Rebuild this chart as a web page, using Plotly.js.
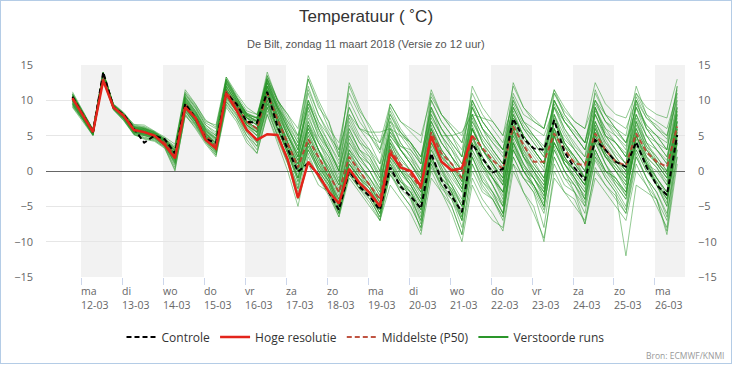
<!DOCTYPE html>
<html>
<head>
<meta charset="utf-8">
<script src="https://cdn.plot.ly/plotly-3.0.1.min.js"></script>
<style>
  html, body { margin: 0; padding: 0; background: #fff; }
  #wrap { position: relative; width: 732px; height: 366px; }
  #chart { width: 732px; height: 366px; }
  #frame { position: absolute; left: 0; top: 0; width: 730px; height: 362px; border: 1px solid #b4cce6; pointer-events: none; }
</style>
</head>
<body>
<div id="wrap"><div id="chart"></div><div id="frame"></div></div>
<script>
// ---- Data (temperatures in °C, 6-hourly from 11-03 19h to 26-03 13h local time) ----
const controle = [10.5,8,5.5,14,9,8,6,4,5,4.5,2.5,9.5,7.5,4.5,4,11,9.5,
  7,6.8,11.2,6.3, 3,-0.1,1.1,-0.5, -3,-5.5,0,-2.2, -3.6,-5.5,0.5,-2.2, -3.6,-5.3,2.5,-1.3,
  -3.6,-5.8,3.8,1.8, -0.2,0.3,7.4,4.6, 3.2,3.0,7.2,2.7, 0.4,-1.3,4.4,3.0, 1.3,0.6,4.1,0.6, -2.0,-3.4,5.1];

const hogeResolutie = [10.3,8,5.5,12.8,9,7.8,5.8,5.5,5,3.7,1.8,9,7.5,4.4,3.2,11,8.6,
  5.8,4.4,5.2,5.1, 1.6,-3.8,1.3,-0.6, -2.9,-4.6,0.3,-1.7, -3.1,-5.0,2.6,0.5, 0,-2.2,4.9,1.3,
  0.1,0.4,5.0];

const middelste = [10.2,8,5.5,13.5,9.1,7.8,5.8,5.5,5,4,2.2,9.5,7.5,5,3.5,11.3,9.3,
  7,6,11,7.3, 4,0.5,4.5,2, -0.5,-3,2,0, -2,-4,3,1, -0.5,-2.5,5.5,2.5,
  1,-1,5,3.2, 1.5,0.3,6.3,3.7, 1.3,1.3,5.3,3.0, 1.1,0.8,5.3,3.0, 1.3,0.8,5.3,2.7, 1.3,0.6,6.3];

const verstoordeRuns = [
  [10.5,8,5.5,13.8,9.2,8,6,5.8,5.2,4.2,2.5,10,8,5.5,4,12,9.5, 7.5,6.5,11,7, 4,1,6,3, 0,-3,3,1, -1.5,-4,4,2, 0,-2,7,4, 2,0,7,4.5, 2.5,0.5,8,5, 3,1,7.5,4, 2,0,6,3, 1.5,0.5,6,3, 1,0,7],
  [10,7.8,5.2,13.5,9,7.6,5.6,5.2,5,4,1.8,9,7,4.5,3,11,9, 6.5,5,10,6, 2.5,-1,4,1, -1.5,-4,1,-1, -3,-5.5,2,0, -2,-4.5,4,1, -1,-3,6,3, 0.5,-1.5,9,6, 4,2,9,5.5, 3,1,5,2, 0,-2,4,1, -1,-3,6],
  [11,8.5,5.8,14,9.4,8.2,6.2,6,5.5,4.5,3,10.5,8.5,6,5,13,10.5, 8,7,13.5,10, 7,4,13,9, 7,2,12.5,9, 6,3,9,6, 4,1,10,7, 5,2,12,9, 7,5,12,9, 7.5,6,11,8.5, 7,6,12.5,9.5, 8,7.5,11,9, 8,7.5,13],
  [9,7,5,13,8.8,7.2,5.2,4.5,4.2,3.2,0,8,6,3.8,2,9,7, 4,2.5,8,4, 0,-5,2,-1, -3,-6.5,-1,-3, -5,-7,-2,-4, -6,-9,-1,-3, -6,-10,-2,-5, -7,-8,1,-3, -6,-9.5,-1,-3, -5,-7,0,-2, -4,-6,1,-2, -5,-8,3],
  [10.2,8,5.6,13.7,9.1,7.9,5.9,5.6,5,4.1,2.2,9.5,7.5,5,3.5,11.5,9.5, 7,6,12,8, 5,2,8,4, 1,-2,5,2, 0,-2.5,6,3, 1,-1,9,5, 3,0,8,4, 1,-2,5,2, 0,-3,4,1, -1,-3,5,2, 0,-2.5,6,2, -1,-3.5,5],
  [9.5,7.5,5.3,13.2,9,7.7,5.7,5.4,4.8,3.8,1.5,8.8,7,4.8,3.2,10.5,8.5, 6,4,9,6, 3,0,5,2, -1,-5,0,-2, -3.5,-6,1,-1.5, -3,-6,3,0, -3,-7,4,1, -2,-5,6,2, -1,-4,8,4, 2,-1,9,5, 3,1,10,6, 4,2,9],
  [10.8,8.2,5.7,13.9,9.3,8,6.1,5.9,5.3,4.3,2.8,10.2,8.2,5.8,4.2,12.5,10, 8,7.5,12.5,9, 6,3,10,6, 3,0,7,4, 2,-1,7.5,4, 2,-1,8,5, 3,1,6,3, 1,-1,10.5,7, 5,3,8,5, 3,1,7,4, 2,0,9,5, 3,1,10],
  [9.8,7.6,5.4,13.4,8.9,7.5,5.5,5.3,4.9,3.9,1.9,9.2,7.2,4.6,3.3,10.8,8.8, 6.5,5.5,10.5,7, 3.5,0.5,7,3, 0,-3.5,2,0, -2,-4.5,3,0.5, -1.5,-4,6,2, -0.5,-3,5,2, -1,-4,4,1, -2,-5,3,0, -2,-4,2,0, -1.5,-3,4,1, -1.5,-4,4],
  [10.3,8.1,5.6,13.6,9.2,7.8,5.8,5.7,5.1,4.2,2.4,9.8,7.8,5.3,3.8,11.8,9.8, 7.5,7,12,8.5, 5,1.5,6.5,4, 2,-1,4,2, 1,-2,5,3, 1.5,-0.5,10,7, 5,3,10,7, 5,3,9,6, 4,2,10,7, 5,3,8,5, 4,2,7,4, 3,1,9],
  [9.3,7.3,5.1,13.1,8.7,7.4,5.4,5,4.6,3.6,1.2,8.5,6.5,4.2,2.6,9.8,8, 5,3.5,9.5,5.5, 1.5,-2,3,0, -2,-5.5,0.5,-2, -4,-6.5,-0.5,-2.5, -4,-7,2,-1, -3,-6,3,0, -2,-5,2,-1, -3,-6,1,-2, -3,-5,3,0, -2,-4,2,-1, -3,-6,2],
  [10.6,8.3,5.9,13.8,9.4,8.1,6.3,6.1,5.4,4.4,3.2,10.8,9,6.5,5.5,13.3,10.5, 8,7.5,14,10, 6.5,4,12,8, 5,3,8,6, 5,4,7,5.5, 4,2,9,6, 4,2,8,5, 3,1,12.5,9, 7,6,11.5,8, 6,4,10,7, 6,5,12,8, 7,6,11],
  [10,7.9,5.5,13.6,9.1,7.8,5.8,5.5,5,4,2.1,9.4,7.3,4.9,3.4,11.2,9.2, 7,6,11.5,7.5, 4,1,5,2, -1,-4,1.5,-0.5, -2.5,-5,1.5,-1, -3,-5.5,2,-0.5, -2,-5,5,1, -1,-3,7,3, 0,-2,6,2, -1,-3,4,1, -2,-4,5,1, -2,-5,6],
  [11.2,8.6,5.9,14,9.5,8.3,6.5,6.3,5.6,4.6,3.5,11.5,9.5,7,6.5,13.3,11, 9,8,13,10, 8,5,10,7, 5,2,9,6, 5.5,5.5,6,5, 4,2,7,4, 2,-1,6,3, 1,-1,7,4, 2,0,11,8, 6,4,9,6, 4,2,8,5, 4,3,11],
  [9.1,7.2,5,12.8,8.6,7.1,5.1,4.6,4.3,3.4,0.5,7.8,6.2,4,2.3,9.5,7.5, 5,3,8.5,5, 2,-2.5,4,0, -3,-6,-0.5,-2.5, -4,-6.5,0,-3, -5,-8,0.5,-2, -5,-9,-1,-4, -6,-8.5,0,-3, -5,-10,0,-3, -4,-7.5,-1,-3, -5,-7,0,-2, -4,-9,1],
  [10.4,8,5.7,13.7,9.2,7.9,6,5.7,5.2,4.2,2.6,10,8,5.5,4,12,9.8, 7.5,6.5,12.5,8.5, 5,2,7.5,4.5, 2,-1.5,6,3, 1,-1.5,4.5,2, 0,-2.5,5,2, 0.5,-2,7.5,4, 2,0,6.5,3.5, 1.5,-1,7,3.5, 1,-1,8,4.5, 2,0,7.5,4, 1.5,-0.5,8],
  [9.7,7.7,5.4,13.3,9,7.6,5.6,5.3,4.9,3.8,1.6,9,7,4.7,3,10.8,8.8, 6.5,5,10,6, 2.5,-1.5,3,0.5, -1.5,-5,3,0, -2,-4.5,3.5,0.5, -1,-3.5,6.5,3, 1,-1.5,9,6, 4,2,7,3.5, 1,-1,5,2, 0,-2,6.5,3, 1,-1,3,0, -2,-4.5,5],
  [10.1,8,5.6,13.5,9.1,7.8,5.8,5.6,5.1,4.1,2.3,9.6,7.6,5.2,3.6,11.4,9.4, 7,6,11,7.5, 4.5,1.5,6,3, 1,-2,3,1, -1,-3,3,0, -2,-5,1,-2, -4,-7,2,-1, -3,-6,3,0, -2,-5,6,2, 0,-2,9,5, 3,1,8,4, 2,0,7],
  [10.7,8.4,5.8,13.9,9.3,8.1,6.2,6,5.4,4.4,3,10.6,8.8,6.2,5,12.8,10.2, 8,7,13,9.5, 6.5,3,9,5, 3,0,10,7, 5,3,8,5, 3,1,11,8, 6,4,11,8, 6,4,10,7, 6,5,9,7, 5.5,4,11,8, 6,4,9,6, 5,3,12],
  [9.6,7.6,5.3,13.2,8.9,7.5,5.5,5.1,4.7,3.7,1,8.6,6.8,4.4,2.8,10.2,8.4, 6,4.5,10,6, 3,-1,4,1, -2,-6,0,-2.5, -3,-7,1,-2, -3.5,-7.5,2,-1.5, -3,-6.5,1,-2.5, -4,-6.5,2,-1, -3,-8,2,-1, -3,-6,2,-1, -3,-12,-2,-3, -4,-7,4],
  [10.4,8.2,5.7,13.6,9.2,7.9,5.9,5.6,5.2,4.2,2.4,9.7,7.8,5.3,3.8,11.6,9.6, 7.5,6.5,11.5,8, 5,2,8.5,5, 2.5,-0.5,4.5,2, 0,-3,6.5,3, 1,-1.5,8,5, 2,0,9.5,6, 3,1,8.5,5, 3,1,9.5,6, 3.5,2,7,4, 2.5,1,10,6, 4,2,8],
  [9.9,7.8,5.4,13.4,9,7.7,5.7,5.4,4.9,3.9,1.8,9.2,7.3,4.8,3.2,11,9, 6.5,5.5,10.5,7, 3.5,0,5.5,2, -0.5,-3,1,-1, -2,-4,2,0, -1,-3,3,0.5, -2,-4.5,4,1, -1,-3.5,5,2, 0,-2,4,1.5, 0,-2,3,0, -1,-3,3.5,0.5, -2,-3.5,3],
  [10.9,8.4,5.8,13.9,9.4,8.1,6.4,6.2,5.5,4.5,3.3,11,9.2,6.8,6,13,10.8, 8.5,8,12,9, 7,5,13.5,10, 7,3,12,8.5, 6.5,4,9.5,7, 5.5,4,11.5,8, 6,4,9,6, 4.5,3,11,8, 7,6,11.5,9, 7,6,10,8, 7,6,10,7.5, 6.5,5,10],
  [9.4,7.4,5.2,13,8.8,7.3,5.3,4.8,4.5,3.5,0.8,8.3,6.6,4.3,2.5,9.8,7.8, 5.5,4,9,5, 1.5,-3,2.5,-1, -3.5,-6.5,0,-2, -3,-6,2,-1, -4,-8.5,1,-2.5, -4,-8,0,-3, -4,-7,3,0, -2,-5,3.5,0, -2,-5,1.5,-1, -3,-5.5,2.5,-1, -4,-8.5,2],
  [10.2,8,5.5,13.6,9.1,7.8,5.8,5.6,5,4.1,2.2,9.6,7.6,5.1,3.6,11.4,9.4, 7,6,12,8, 4,0.5,6,3, 0.5,-2.5,2.5,0.5, -1,-3.5,4,1, -1,-3,5.5,2.5, 0,-2.5,3,0.5, -1,-3,1,-1, -2,-4,5,1.5, 0,-2,5,2, 1,-1,4,1, 0,-2,6],
  [10.5,8.1,5.7,13.7,9.2,7.9,6,5.8,5.2,4.3,2.7,10.1,8.2,5.7,4.4,12.3,10, 7.8,7,12.8,9, 5.5,2.5,10,6, 3.5,0,6.5,4, 3,1,5.5,3.5, 2.5,0,7,4, 2,0,10,7, 5,3,8,5, 3,1,6,3.5, 2,0,9,5.5, 4,2,6,3, 1.5,-0.5,9],
  [9.2,7.3,5.1,12.9,8.7,7.2,5.2,4.7,4.4,3.3,0.2,8,6.4,4.1,2.2,9.3,7.4, 4.5,2.5,8,4.5, 1,-4,1,-2, -3,-6,1,-1, -2.5,-5.5,1,-1.5, -3,-6.5,2,-1, -2.5,-6,5,1, -1,-3,4,0.5, -1,-3.5,5,1, -1,-4,3,0, -1,-3.5,5,1.5, -2,-4,7],
  [10.6,8.2,5.8,13.8,9.3,8,6.1,5.9,5.3,4.3,2.9,10.4,8.5,6,4.7,12.6,10.2, 8,7.5,12.5,9.5, 6,3.5,9.5,6.5, 4,1.5,8,5, 3,0,5,3, 1,-1,6,3, 1,-1.5,8,5, 3,1,10,7, 5,3,10,7, 5,3,8.5,6, 5,3.5,9,6.5, 5,4,10.5],
  [9.9,7.7,5.4,13.3,9,7.7,5.7,5.3,4.9,3.9,1.7,9.1,7.1,4.7,3.1,10.9,9, 6.5,5.5,11,7, 3,-0.5,4.5,1.5, -1,-4.5,2,-0.5, -2,-5,3,0, -2,-4.5,4.5,1, -1.5,-4,6,2, -0.5,-3,6,2.5, 0,-2.5,8,4, 1.5,-1,6,2.5, 0.5,-1.5,7,3, 1,-1,6],
  [10.3,8.1,5.6,13.6,9.2,7.9,5.9,5.7,5.1,4.2,2.5,9.9,7.9,5.4,4,11.9,9.8, 7.6,6.8,12.4,8.6, 5.5,2,7,4, 1.5,-1.5,5,2.5, 1,-1.5,5.5,3, 1,-1.5,4,1.5, 0,-2.5,6,3, 1.5,-0.5,7.5,4.5, 2.5,0.5,7,4, 2,0,4.5,2, 0.5,-1,6.5,3.5, 1,-1,7.5],
  [9.6,7.5,5.3,13.2,8.9,7.5,5.5,5.2,4.8,3.7,1.4,8.8,7,4.6,2.9,10.4,8.5, 6,4.5,9.5,6, 2.5,-1,3.5,0.5, -1.5,-5,1,-1.5, -3,-6,0.5,-2, -3.5,-7,1.5,-2, -3.5,-7,2,-1.5, -3,-6,4,0, -2,-4.5,2,-1, -2,-4.5,4.5,1, -1,-3,4,0.5, -2,-5,5],
  [10.8,8.3,5.9,13.9,9.3,8.1,6.6,6.5,5.7,4.8,3.8,11.2,9.4,7.2,6.2,12.8,10.4, 8.2,7.4,13.2,9.2, 6,3,11,7, 4,1,7.5,4.5, 2.5,0,8.5,5.5, 3.5,1.5,7.5,5, 5,5.5,8,7.5, 7,5,9.5,6.5, 4.5,2.5,7,4.5, 3,1,8,5, 4,2.5,9.5,6.5, 5,3,9.5],
  [9.5,7.4,5.2,13.1,8.8,7.4,5.3,5,4.6,3.5,1.1,8.4,6.7,4.3,2.7,10,8.1, 5.5,3.5,9,5, 1,-2.5,3.5,0.5, -2.5,-6,-0.5,-2.5, -4.5,-7,-0.5,-3, -5,-8,0,-3, -5,-9,1,-2, -4,-6.5,3.5,0, -2.5,-5.5,5,1, -1,-4,6.5,2.5, 0,-2,5,1.5, -1,-3,8],
  [10.1,7.9,5.5,13.5,9,7.7,5.9,5.9,5.3,4.4,2.9,10.3,8.3,5.8,4.5,12.4,10, 7.5,6.5,12,9, 6,3.5,9,5.5, 3,0.5,6,3, 1.5,-1,7,4, 2,0,6,3, 1,-1,5,2, 0,-2,6,3, 1,-1,4,1.5, 0.5,-1.5,5.5,2.5, 1,-0.5,5,2, 0.5,-2,5.5],
  [10.7,8.3,5.7,13.8,9.3,8,6.1,5.8,5.1,4,2,9.3,7.2,4.9,3.4,11.4,9.3, 6.8,5.6,11.8,7.6, 4,0.5,6.5,3, -0.5,-4,0,-2, -3,-5,0,-2, -3,-5.5,1.5,-1, -2.5,-5,2.5,-0.5, -3,-5,3,0, -1,-3,4,1, -1.5,-3.5,2.5,-0.5, -2.5,-5,3,0, -1.5,-4,4],
  [9.9,7.8,5.5,13.4,9,7.6,5.8,5.6,5.1,4.1,2.3,9.7,7.8,5.6,4.6,12.1,9.8, 7.8,7.2,13,10, 8,6,13,9.5, 6,4,11,8, 5,2.5,8,5.5, 4,2,9,6, 3.5,1,7,4, 2,0,8,5, 3,1,9,6, 4,2,11.5,8, 6,4,8,5, 3,1.5,8.5],
  [10.4,8.1,5.6,13.6,9.1,7.8,5.8,5.5,5,4,2.2,9.6,7.6,5.2,3.9,11.6,9.4, 7,6,11.5,7.5, 4,1.5,5.5,2.5, 0.5,-2,4,1.5, 0,-2.5,4.5,1.5, 0,-2.5,5.5,2, 0.5,-1.5,4.5,1.5, 0,-2,5.5,2, 0.5,-1.5,6,2.5, 1,-1,5.5,2, 0,-1.5,5,2, 0.5,-1.5,6.5],
  [9.4,7.4,5.1,13,8.8,7.4,5.4,5.1,4.7,3.6,1.3,8.7,7,4.5,2.9,10.5,8.4, 5.8,4.2,9.6,6, 2.5,-1.5,3,0, -2,-5,2.5,0, -2,-4.5,3.5,0, -1.5,-4,4,0.5, -3,-6.5,2,-1.5, -3.5,-6,4.5,1, -1,-3.5,3,0, -3,-7.5,0.5,-2, -3.5,-6,2,-1, -3,-6.5,4.5],
  [10.6,8.2,5.7,13.8,9.3,8,6.2,6,5.4,4.4,2.8,10.4,8.4,5.9,4.6,12.5,10, 7.8,7,12.8,9, 5,2.5,9.5,6, 3,0,5.5,3, 2,-0.5,6,3.5, 3,1,8.5,6, 4,2,9,6, 4,2.5,7.5,5, 3,1,10,7, 5,3,9.5,7, 5.5,4,10.5,7.5, 6,4.5,12],
  [10,7.8,5.4,13.4,9,7.6,5.6,5.4,4.9,3.9,1.9,9.3,7.3,4.8,3.3,11,9, 6.6,5.4,10.8,7, 3.5,0,4,1, -1,-4.5,1,-1, -2.5,-5,2.5,-0.5, -2,-4.5,5,1.5, 0,-2.5,6.5,3, 1,-1,5.5,2.5, 0.5,-1.5,7,3.5, 1,-1,6,3, 1.5,0,5.5,2.5, 1,-1,7],
  [10.3,8,5.6,13.6,9.1,7.8,5.8,5.5,5,4,2.1,9.4,7.4,5,3.5,11.2,9.2, 6.8,5.8,11.2,7.4, 4,1,6.5,3, 0,-3,3.5,1, -1,-3.5,4,1, -0.5,-3,6,2.5, 1,-1,6,3, 1,-1.5,4,1, -1,-3,5.5,2, 0,-2,7,3.5, 1.5,-0.5,7,3.5, 2,0,8.5],
  [9.7,7.6,5.3,13.2,8.9,7.5,5.5,5.2,4.8,3.8,1.6,9,7,4.7,3.1,10.7,8.7, 6.2,5,10.2,6.5, 3,-1,4.5,1.5, -1.5,-5,1.5,-1, -3.5,-6,1.5,-1.5, -2.5,-5.5,3.5,0, -2,-5,4,0.5, -2,-4.5,6,2, -0.5,-2.5,4,1, -0.5,-2.5,4,1, -1.5,-3.5,4.5,1, -1,-3,5.5],
  [10.9,8.4,5.8,13.9,9.4,8.1,6.3,6.1,5.5,4.6,3.2,10.9,9,6.5,5.2,12.9,10.4, 8.2,7.6,13.5,10.2, 7.5,4.5,11.5,8, 5.5,2.5,9,6, 4,1,9.5,7, 6,5,10.5,8, 6.5,5,10,7, 5,3,9,6, 5,3.5,10,7.5, 6,4,10,7, 5,3,11,8, 6,5,11.5]
];

const dagNamen = ['ma','di','wo','do','vr','za','zo','ma','di','wo','do','vr','za','zo','ma'];
const datums = ['12-03','13-03','14-03','15-03','16-03','17-03','18-03','19-03','20-03','21-03','22-03','23-03','24-03','25-03','26-03'];

// time grid: 6-hourly steps starting 11-03-2018 19:00
const startMs = Date.UTC(2018, 2, 11, 19);
const tijden = controle.map((_, i) => new Date(startMs + i * 6 * 3600e3).toISOString().slice(0, 16).replace('T', ' '));
const dagStart = datums.map(d => '2018-03-' + d.slice(0, 2) + ' 00:00');

// ---- Traces ----
const traces = [];
verstoordeRuns.forEach(run => {
  traces.push({
    x: tijden, y: run, type: 'scatter', mode: 'lines',
    line: { color: 'rgba(40,150,40,0.5)', width: 1 },
    hoverinfo: 'skip', showlegend: false
  });
});
traces.push({
  x: [null], y: [null], type: 'scatter', mode: 'lines', name: 'Verstoorde runs',
  line: { color: '#2a962a', width: 2 }, legendrank: 4, hoverinfo: 'skip'
});
traces.push({
  x: tijden, y: middelste, type: 'scatter', mode: 'lines', name: 'Middelste (P50)',
  line: { color: 'rgba(185,65,45,0.9)', width: 2, dash: '5px,3px' }, legendrank: 3, hoverinfo: 'skip'
});
traces.push({
  x: tijden, y: controle, type: 'scatter', mode: 'lines', name: 'Controle',
  line: { color: '#000000', width: 2, dash: '5px,3px' }, legendrank: 1, hoverinfo: 'skip'
});
traces.push({
  x: tijden.slice(0, hogeResolutie.length), y: hogeResolutie, type: 'scatter', mode: 'lines', name: 'Hoge resolutie',
  line: { color: '#e3241b', width: 2.5 }, legendrank: 2, hoverinfo: 'skip'
});
traces.push({ x: [null], y: [null], yaxis: 'y2', type: 'scatter', mode: 'lines', showlegend: false, hoverinfo: 'skip' });

// ---- Shapes: alternating day bands ----
const shapes = [];
for (let k = 0; k < dagStart.length; k += 2) {
  shapes.push({
    type: 'rect', xref: 'x', yref: 'paper', layer: 'below',
    x0: dagStart[k], x1: k + 1 < dagStart.length ? dagStart[k + 1] : '2018-03-26 17:34',
    y0: 0, y1: 1, fillcolor: '#f2f2f2', line: { width: 0 }
  });
}

// ---- Annotations: day labels, subtitle, source ----
const tickFont = { family: 'Open Sans, sans-serif', size: 11, color: '#666' };
const annotations = [];
dagStart.forEach((d, k) => {
  annotations.push({ x: d, xref: 'x', y: 0, yref: 'paper', yanchor: 'top', yshift: -5,
    xanchor: 'left', xshift: -2, align: 'left', text: dagNamen[k] + '<br>' + datums[k],
    showarrow: false, font: { family: 'Open Sans, sans-serif', size: 10.5, color: '#666' } });
});
annotations.push({ x: 0.5, xref: 'paper', y: 1, yref: 'paper', yshift: 21, yanchor: 'middle',
  text: 'De Bilt, zondag 11 maart 2018 (Versie zo 12 uur)', showarrow: false,
  font: { family: 'Liberation Sans Narrow, Liberation Sans, sans-serif', size: 11, color: '#555' } });
annotations.push({ x: 1, xref: 'paper', xanchor: 'right', xshift: 41, y: 0, yref: 'paper', yshift: -78, yanchor: 'middle',
  text: 'Bron: ECMWF/KNMI', showarrow: false,
  font: { family: 'Open Sans, sans-serif', size: 8.5, color: '#999' } });

const yax = {
  range: [-15, 15], dtick: 5, tick0: 0, fixedrange: true,
  tickfont: tickFont, ticks: '', ticklabelstandoff: 12
};

const layout = {
  width: 732, height: 366,
  margin: { l: 46, r: 47, t: 65, b: 89 },
  paper_bgcolor: '#ffffff', plot_bgcolor: '#ffffff',
  font: { family: 'Open Sans, sans-serif', color: '#333' },
  title: {
    text: 'Temperatuur ( ˚C)', x: 0.5, xanchor: 'center', y: 1 - 16 / 366, yanchor: 'middle',
    font: { family: 'Liberation Sans Narrow, Liberation Sans, sans-serif', size: 17, color: '#333' }
  },
  xaxis: {
    type: 'date', range: ['2018-03-11 03:30', '2018-03-26 17:34'],
    tickmode: 'array', tickvals: dagStart, showticklabels: false,
    ticks: 'outside', ticklen: 7, tickcolor: '#ccd6eb', tickwidth: 1,
    showgrid: false, zeroline: false, showline: false, fixedrange: true
  },
  yaxis: Object.assign({}, yax, {
    showgrid: true, gridcolor: '#e6e6e6', gridwidth: 1,
    zeroline: true, zerolinecolor: '#666', zerolinewidth: 1
  }),
  yaxis2: Object.assign({}, yax, {
    overlaying: 'y', side: 'right', showgrid: false, zeroline: false
  }),
  showlegend: true,
  legend: {
    orientation: 'h', x: 0.5, xanchor: 'center', y: -0.283, yanchor: 'middle',
    font: { family: 'Open Sans, sans-serif', size: 12, color: '#333' },
    itemwidth: 30, bgcolor: 'rgba(0,0,0,0)'
  },
  shapes: shapes,
  annotations: annotations,
  hovermode: false
};

Plotly.newPlot('chart', traces, layout, { displayModeBar: false, staticPlot: true });
</script>
</body>
</html>
